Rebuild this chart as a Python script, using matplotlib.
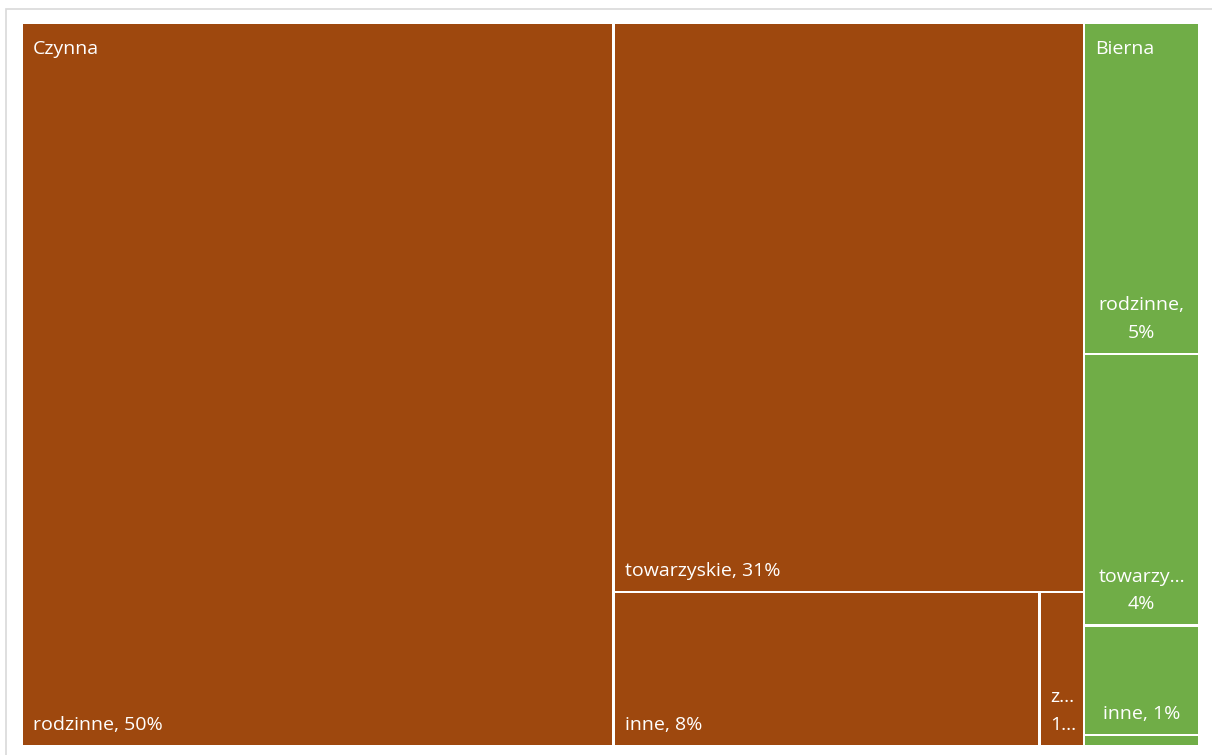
import matplotlib
matplotlib.use("Agg")
import matplotlib.pyplot as plt
from matplotlib.patches import Rectangle

# data
groups = ["Czynna", "Bierna"]
group_colors = ["#9E480E", "#70AD47"]
czynna_names = ["rodzinne", "towarzyskie", "inne", "zawodowe"]
czynna_vals = [49.5, 31.0, 7.6, 0.8]
czynna_labels = ["rodzinne, 50%", "towarzyskie, 31%", "inne, 8%", "z...\n1..."]
bierna_names = ["rodzinne", "towarzyskie", "inne", "zawodowe"]
bierna_vals = [4.4, 3.6, 1.45, 0.15]
bierna_labels = ["rodzinne,\n5%", "towarzy...\n4%", "inne, 1%", ""]

W, H = 1212, 755
FONT = ["Open Sans", "DejaVu Sans"]


def worst(row, short):
    s = sum(row)
    return max(max(short**2 * r / s**2, s**2 / (short**2 * r)) for r in row)


def squarify(values, x, y, w, h):
    total = sum(values)
    areas = [v * w * h / total for v in values]
    rects = []
    i = 0
    while i < len(areas):
        short = min(w, h)
        row = [areas[i]]
        i += 1
        while i < len(areas) and worst(row + [areas[i]], short) <= worst(row, short):
            row.append(areas[i])
            i += 1
        s = sum(row)
        if w >= h:
            cw = s / h
            yy = y
            for a in row:
                rects.append((x, yy, cw, a / cw))
                yy += a / cw
            x += cw
            w -= cw
        else:
            rh = s / w
            xx = x
            for a in row:
                rects.append((xx, y, a / rh, rh))
                xx += a / rh
            y += rh
            h -= rh
    return rects


fig = plt.figure(figsize=(W / 100, H / 100), dpi=100)
fig.patches.append(Rectangle((6 / W, -0.1), 1.2, 0.1 + (H - 9) / H, transform=fig.transFigure,
                             fill=False, edgecolor="#D9D9D9", linewidth=1.2))

x0, x1, y0, y1 = 22, 1199, 23, 746
ax = fig.add_axes([x0 / W, 1 - y1 / H, (x1 - x0) / W, (y1 - y0) / H])
aw, ah = x1 - x0, y1 - y0
ax.set_xlim(0, aw)
ax.set_ylim(ah, 0)
ax.axis("off")

gap = 1.1
top = squarify([sum(czynna_vals), sum(bierna_vals)], 0, 0, aw, ah)
children = [(czynna_vals, czynna_labels, "left"), (bierna_vals, bierna_labels, "center")]

for gname, color, (gx, gy, gw, gh), (vals, labels, align) in zip(groups, group_colors, top, children):
    leaves = squarify(vals, gx, gy, gw, gh)
    for (lx, ly, lw, lh), lab in zip(leaves, labels):
        ax.add_patch(Rectangle((lx + gap, ly + gap), lw - 2 * gap, lh - 2 * gap,
                               facecolor=color, edgecolor="none"))
        if not lab:
            continue
        if align == "left":
            tx = lx + gap + 10
        else:
            tx = lx + lw / 2
        ax.text(tx, ly + lh - gap - 11, lab, color="white", fontsize=14, family=FONT,
                ha=align, va="bottom", multialignment=align, linespacing=1.7)
    ax.text(gx + gap + 10, gy + gap + 30, gname, color="white", fontsize=14, family=FONT,
            ha="left", va="baseline")

fig.savefig("out.png", dpi=100)
